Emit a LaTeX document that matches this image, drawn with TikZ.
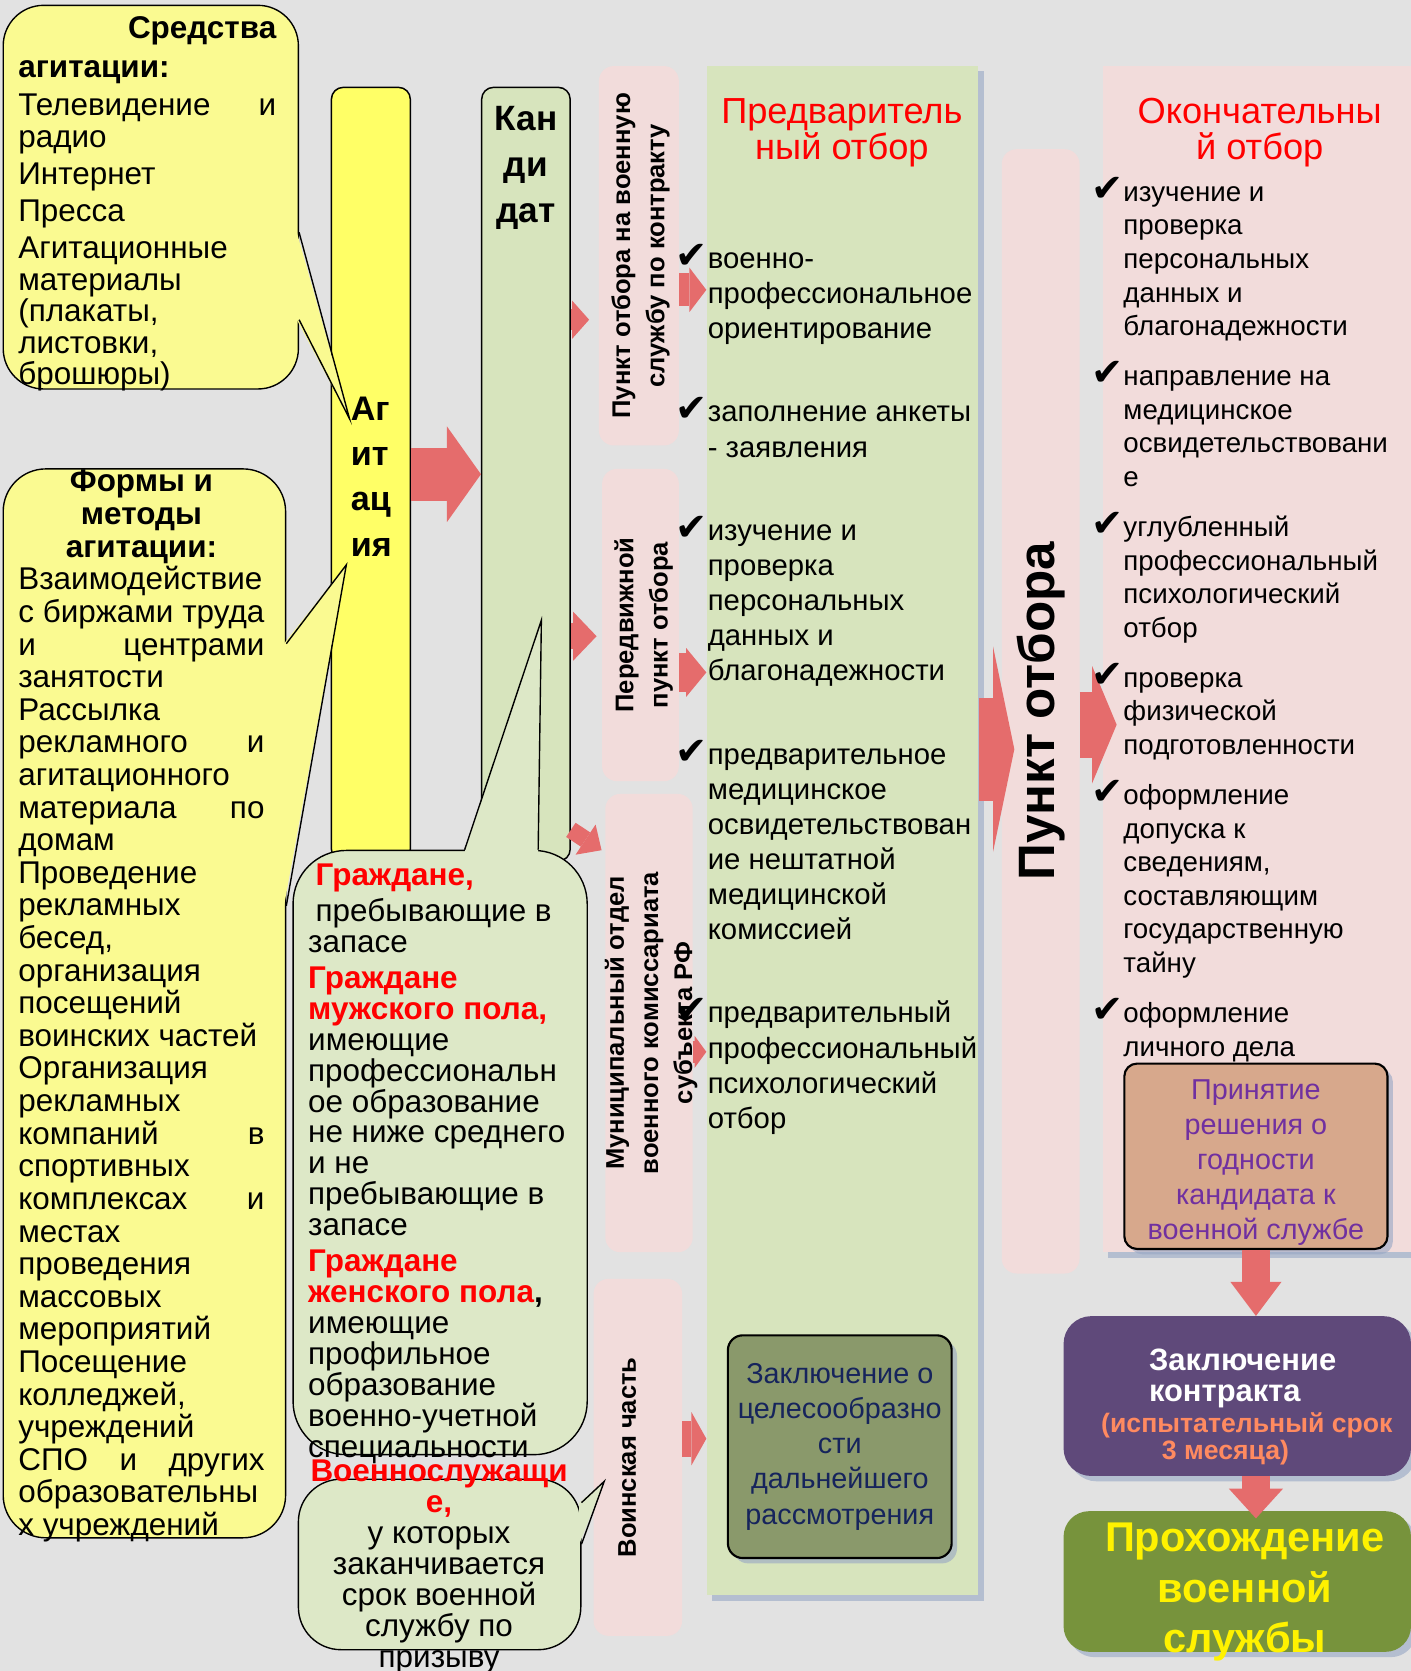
\documentclass[tikz,border=0pt]{standalone}
\usepackage{fontspec}
\setmainfont{Liberation Sans}
\newfontfamily\checkfont{DejaVu Sans}
\usetikzlibrary{arrows.meta,shadows}

\definecolor{bgcol}{RGB}{226,226,226}
\definecolor{yellowpale}{RGB}{250,250,145}
\definecolor{yellowbright}{RGB}{255,255,102}
\definecolor{greenpale}{RGB}{215,228,189}
\definecolor{pinkpale}{RGB}{242,220,219}
\definecolor{arrowred}{RGB}{229,108,108}
\definecolor{olivebox}{RGB}{138,153,107}
\definecolor{navytext}{RGB}{22,36,92}
\definecolor{tanbox}{RGB}{215,168,140}
\definecolor{purpletext}{RGB}{112,48,160}
\definecolor{purplebox}{RGB}{95,73,122}
\definecolor{orangetext}{RGB}{255,138,96}
\definecolor{olivegreen}{RGB}{119,147,60}
\definecolor{shadowblue}{RGB}{150,166,196}

\newcommand\chk{\llap{\checkfont\fontsize{36}{36}\selectfont ✔}}
\newcommand\spread[2]{\makebox[#1][s]{#2}}

\begin{document}
\begin{tikzpicture}[x=1pt,y=-1pt,
    bar/.style={draw=black, line width=1.4pt, rounded corners=11pt, inner sep=0pt},
    pinkbar/.style={fill=pinkpale, rounded corners=14pt, inner sep=0pt},
    shadowed/.style={drop shadow={shadow xshift=5pt, shadow yshift=-5pt, fill=shadowblue, opacity=.6}},
    panel/.style={inner sep=0pt, shadowed},
    callout/.style={draw=black, line width=1.3pt, inner sep=0pt},
    resbox/.style={draw=black, line width=2pt, rounded corners=14pt, align=center, inner sep=0pt, shadowed},
    endbox/.style={rounded corners=26pt, inner sep=0pt, shadowed},
    vlabel/.style={rotate=90, align=center, inner sep=0pt, font=\bfseries\fontsize{24}{32}\selectfont},
    txt/.style={align=left, inner sep=0pt, font=\fontsize{29.5}{29}\selectfont},
    title/.style={align=center, inner sep=0pt, text=red, font=\fontsize{34}{34}\selectfont},
    fatarrow/.style n args={3}{draw=arrowred, line width=#1, -{Triangle[length=#2, width=#3, line width=0pt]}}]

  % background
  \fill[bgcol] (0,0) rectangle (1324,1568);
  \useasboundingbox (0,0) rectangle (1324,1568);

  % selection panels
  \node[panel, fill=greenpale, minimum width=255pt, minimum height=1435pt] (prelim) at (790.5,779.5) {};
  \node[panel, fill=pinkpale, minimum width=289pt, minimum height=1113pt] (final) at (1179.5,618.5) {};

  % pink columns
  \node[pinkbar, minimum width=73pt, minimum height=1055pt] (punkt) at (976.5,667.5) {};
  \node[pinkbar, minimum width=75pt, minimum height=356pt] (pk1) at (599.5,240) {};
  \node[pinkbar, minimum width=72pt, minimum height=293pt] (pk2) at (601,586.5) {};
  \node[pinkbar, minimum width=82pt, minimum height=430pt] (pk3) at (609,960) {};
  \node[pinkbar, minimum width=83pt, minimum height=335pt] (pk4) at (598.5,1367.5) {};

  % agitation and candidate bars
  \node[bar, fill=yellowbright, minimum width=74pt, minimum height=726pt] (agit) at (348,445) {};
  \node[bar, fill=greenpale, minimum width=83pt, minimum height=726pt] (cand) at (493.5,445) {};

  % result boxes
  \node[resbox, fill=olivebox, text=navytext, minimum width=210pt, minimum height=209pt,
        font=\fontsize{27}{33}\selectfont] (prelimres) at (788,1357.5)
        {Заключение о\\целесообразно\\сти\\дальнейшего\\рассмотрения};
  \node[resbox, fill=tanbox, rounded corners=12pt, minimum width=247pt, minimum height=174pt] (decide) at (1178.5,1085) {};
  \node[endbox, fill=purplebox, minimum width=326pt, minimum height=150pt] (contract) at (1161,1310) {};
  \node[endbox, fill=olivegreen, rounded corners=24pt, minimum width=326pt, minimum height=132pt] (service) at (1161,1484) {};

  % arrows
  \draw[fatarrow={50pt}{32pt}{90pt}] (agit.east) -- (cand.west);
  \draw[fatarrow={20pt}{16pt}{36pt}, shorten >=9pt] (cand.east |- 0,300) -- (pk1.west |- 0,300);
  \draw[fatarrow={24pt}{22pt}{46pt}, shorten >=5pt] (cand.east |- 0,597) -- (pk2.west |- 0,597);
  \draw[fatarrow={16pt}{18pt}{34pt}, shorten >=4pt] ([yshift=30pt]cand.south east) -- (pk3.west |- 0,800);
  \draw[fatarrow={31pt}{16pt}{42pt}] (pk1.east |- 0,272) -- (prelim.west |- 0,272);
  \draw[fatarrow={36pt}{19pt}{46pt}] (pk2.east |- 0,631) -- (prelim.west |- 0,631);
  \draw[fatarrow={20pt}{11pt}{30pt}] (pk3.east |- 0,987) -- (prelim.west |- 0,987);
  \draw[fatarrow={34pt}{14pt}{50pt}] (pk4.east |- 0,1350) -- (prelim.west |- 0,1350);
  \draw[fatarrow={97pt}{20pt}{193pt}, shorten >=-12pt] (prelim.east |- 0,703) -- (punkt.west |- 0,703);
  \draw[fatarrow={62pt}{23pt}{110pt}, shorten >=-13pt] (punkt.east |- 0,680) -- (final.west |- 0,680);
  \draw[fatarrow={27pt}{32pt}{48pt}] (decide.south) -- (decide.south |- contract.north);
  \draw[fatarrow={27pt}{28pt}{51pt}, shorten >=-7pt] (contract.south -| decide.south) -- (decide.south |- service.north);

  % callouts
  \node[callout, fill=yellowpale, rounded corners=38pt, minimum width=277pt, minimum height=360pt] (srd) at (141.5,185) {};
  \coordinate (srdtip) at (328,393);
  \fill[yellowpale] (278.5,218) -- (srdtip) -- (278.5,300) -- cycle;
  \draw[line width=1.3pt] (srd.east |- 0,218) -- (srdtip) -- (srd.east |- 0,300);

  \node[callout, fill=yellowpale, rounded corners=40pt, minimum width=265pt, minimum height=1003pt] (frm) at (135.5,941.5) {};
  \coordinate (frmtip) at (325,530);
  \fill[yellowpale] (266.5,604) -- (frmtip) -- (266.5,850) -- cycle;
  \draw[line width=1.3pt] (frm.east |- 0,604) -- (frmtip) -- (frm.east |- 0,850);

  \node[callout, fill=greenpale!85!white, rounded corners=50pt, minimum width=276pt, minimum height=567pt] (cit) at (413,1081.5) {};
  \coordinate (cittip) at (508,582);
  \fill[greenpale!85!white] (436,799.5) -- (cittip) -- (505,799.5) -- cycle;
  \draw[line width=1.3pt] (cit.north -| 436,0) -- (cittip) -- (cit.north -| 505,0);

  \node[callout, fill=greenpale!85!white, rounded corners=40pt, minimum width=265pt, minimum height=160pt] (mil) at (412.5,1468) {};
  \coordinate (miltip) at (567,1390);
  \fill[greenpale!85!white] (543.5,1410) -- (miltip) -- (543.5,1449) -- cycle;
  \draw[line width=1.3pt] (mil.east |- 0,1410) -- (miltip) -- (mil.east |- 0,1449);

  % texts of the left column
  \node[txt, anchor=north west, font=\fontsize{29.5}{29.5}\selectfont] (srdlbl) at (17,15)
    {\makebox[242pt][r]{\bfseries Средства}\\[7.5pt]
     {\bfseries агитации:}\\[6.5pt]
     \spread{242pt}{Телевидение и}\\
     радио\\[5.5pt]
     Интернет\\[5pt]
     Пресса\\[5.5pt]
     Агитационные\\
     материалы\\
     (плакаты,\\
     листовки,\\
     брошюры)};

  \node[txt, anchor=north west, font=\fontsize{29.5}{30.6}\selectfont] (frmlbl) at (17,441)
    {\makebox[231pt]{\bfseries Формы и}\\
     \makebox[231pt]{\bfseries методы}\\
     \makebox[231pt]{\bfseries агитации:}\\
     Взаимодействие\\
     с биржами труда\\
     \spread{231pt}{и центрами}\\
     занятости\\
     Рассылка\\
     \spread{231pt}{рекламного и}\\
     агитационного\\
     \spread{231pt}{материала по}\\
     домам\\
     Проведение\\
     рекламных\\
     бесед,\\
     организация\\
     посещений\\
     воинских частей\\
     Организация\\
     рекламных\\
     \spread{231pt}{компаний в}\\
     спортивных\\
     \spread{231pt}{комплексах и}\\
     местах\\
     проведения\\
     массовых\\
     мероприятий\\
     Посещение\\
     колледжей,\\
     учреждений\\
     \spread{231pt}{СПО и других}\\
     образовательны\\
     х учреждений};

  % bar labels
  \node[anchor=north west, align=left, inner sep=0pt, font=\bfseries\fontsize{32}{42.6}\selectfont] (agitlbl) at (329,372) {Аг\\ит\\ац\\ия};
  \node[anchor=north, align=center, inner sep=0pt, font=\bfseries\fontsize{33}{43}\selectfont] (candlbl) at (493.5,100) {Кан\\ди\\дат};

  % candidate groups
  \node[txt, anchor=north west] (citlbl) at (289,810)
    {\hspace*{7pt}\textcolor{red}{\bfseries Граждане,}\\[5pt]
     \hspace*{7pt}пребывающие в\\
     запасе\\[5pt]
     \textcolor{red}{\bfseries Граждане}\\
     \textcolor{red}{\bfseries мужского пола,}\\
     имеющие\\
     профессиональн\\
     ое образование\\
     не ниже среднего\\
     и не\\
     пребывающие в\\
     запасе\\[5pt]
     \textcolor{red}{\bfseries Граждане}\\
     \textcolor{red}{\bfseries женского пола}{\bfseries ,}\\
     имеющие\\
     профильное\\
     образование\\
     военно-учетной\\
     специальности};

  \node[txt, anchor=north, align=center] (millbl) at (412,1370)
    {\textcolor{red}{\bfseries Военнослужащи}\\
     \textcolor{red}{\bfseries е,}\\
     у которых\\
     заканчивается\\
     срок военной\\
     службу по\\
     призыву};

  % vertical labels
  \node[vlabel] (pk1lbl) at ([xshift=1.5pt]pk1.center) {Пункт отбора на военную\\службу по контракту};
  \node[vlabel] (pk2lbl) at ([xshift=3pt]pk2.center) {Передвижной\\пункт отбора};
  \node[vlabel] (pk3lbl) at ([xshift=2pt]pk3.center) {Муниципальный отдел\\военного комиссариата\\субъекта РФ};
  \node[vlabel] (pk4lbl) at ([xshift=-10pt]pk4.center) {Воинская часть};
  \node[vlabel, font=\bfseries\fontsize{48}{50}\selectfont] (punktlbl) at (punkt) {Пункт отбора};

  % preliminary selection
  \node[title, anchor=north] (prelimtitle) at (790,92) {Предваритель\\ный отбор};
  \node[anchor=north west, align=left, inner sep=0pt, font=\fontsize{27.5}{33}\selectfont] (prelimlist) at (664,229)
    {\chk военно-\\профессиональное\\ориентирование\\[45pt]
     \chk заполнение анкеты\\- заявления\\[45pt]
     \chk изучение и\\проверка\\персональных\\данных и\\благонадежности\\[45pt]
     \chk предварительное\\медицинское\\освидетельствован\\ие нештатной\\медицинской\\комиссией\\[45pt]
     \chk предварительный\\профессиональный\\психологический\\отбор};

  % final selection
  \node[title, anchor=north] (finaltitle) at (1182,92) {Окончательны\\й отбор};
  \node[anchor=north west, align=left, inner sep=0pt, font=\fontsize{26}{31.5}\selectfont] (finallist) at (1054,166)
    {\chk изучение и\\проверка\\персональных\\данных и\\благонадежности\\[15.5pt]
     \chk направление на\\медицинское\\освидетельствовани\\е\\[15.5pt]
     \chk углубленный\\профессиональный\\психологический\\отбор\\[15.5pt]
     \chk проверка\\физической\\подготовленности\\[15.5pt]
     \chk оформление\\допуска к\\сведениям,\\составляющим\\государственную\\тайну\\[15.5pt]
     \chk оформление\\личного дела};

  \node[align=center, inner sep=0pt, text=purpletext, font=\fontsize{27}{33}\selectfont] (decidelbl) at ([yshift=-6pt]decide.center)
    {Принятие\\решения о\\годности\\кандидата к\\военной службе};

  % contract and service
  \node[anchor=north west, align=left, inner sep=0pt, text=white, font=\bfseries\fontsize{29}{29}\selectfont] (contractlbl) at (1078,1266) {Заключение\\контракта};
  \node[anchor=north, align=center, inner sep=0pt, text=orangetext, font=\bfseries\fontsize{25}{26}\selectfont] (termlbl) at (1170,1325) {(испытательный срок\\3 месяца)\hspace*{40pt}};
  \node[align=center, inner sep=0pt, text=yellow, font=\bfseries\fontsize{39}{47.5}\selectfont] (servicelbl) at ([xshift=7pt, yshift=-10pt]service.center) {Прохождение\\военной\\службы};
\end{tikzpicture}
\end{document}
